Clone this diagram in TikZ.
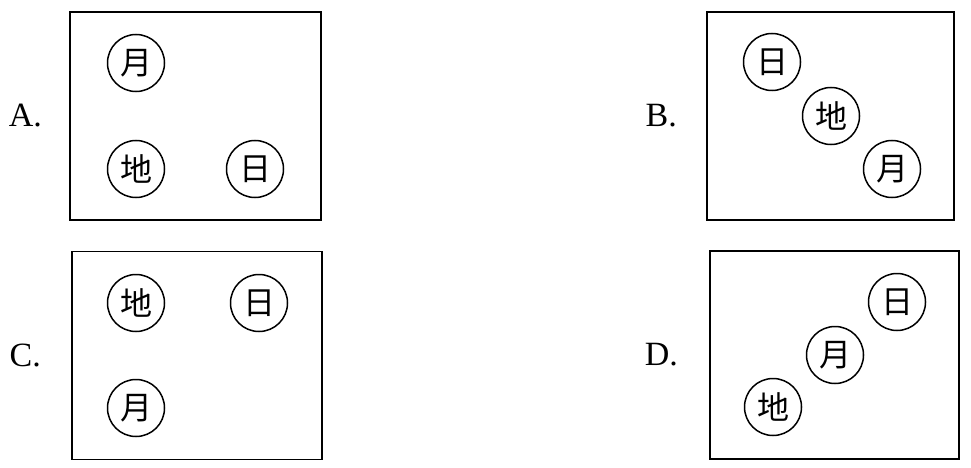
\documentclass[tikz,border=0pt]{standalone}
\usepackage{fontspec}
\setmainfont{Liberation Serif}
\newfontfamily\cjk{Noto Sans CJK SC}
\usepackage{tikz}
\usetikzlibrary{positioning}

\begin{document}
\begin{tikzpicture}[
      x=1pt, y=-1pt,
      panel/.style={draw, line width=1.9pt, minimum height=208pt, inner sep=0pt},
      body/.style={draw, circle, line width=1.5pt, minimum size=57pt, inner sep=0pt, font=\cjk\fontsize{32}{32}\selectfont},
      optlabel/.style={font=\fontsize{34}{40}\selectfont, inner sep=0pt}
    ]
    \useasboundingbox (0,0) rectangle (971,468);
    % frames
    \node[panel, minimum width=251pt] (boxA) at (195.5,116) {};
    \node[panel, minimum width=247pt] (boxB) at (830.5,116) {};
    \node[panel, minimum width=250pt] (boxC) at (197,355.5) {};
    \node[panel, minimum width=249pt] (boxD) at (834.5,355) {};
    % option letters
    \node[optlabel, left=27pt of boxA] (labA) {A.};
    \node[optlabel, left=29pt of boxB] (labB) {B.};
    \node[optlabel, left=30pt of boxC] (labC) {C.};
    \node[optlabel, left=31pt of boxD] (labD) {D.};
    % A
    \node[body] (moonA) at (136,63) {月};
    \node[body] (earthA) at (136,169) {地};
    \node[body] (sunA) at (255,169) {日};
    % B
    \node[body] (sunB) at (772,62) {日};
    \node[body] (earthB) at (831,116) {地};
    \node[body] (moonB) at (892,169) {月};
    % C
    \node[body] (earthC) at (136,303) {地};
    \node[body] (sunC) at (259,303) {日};
    \node[body] (moonC) at (136,408) {月};
    % D
    \node[body] (sunD) at (897,302) {日};
    \node[body] (moonD) at (835,355) {月};
    \node[body] (earthD) at (773,407) {地};
  \end{tikzpicture}
\end{document}
